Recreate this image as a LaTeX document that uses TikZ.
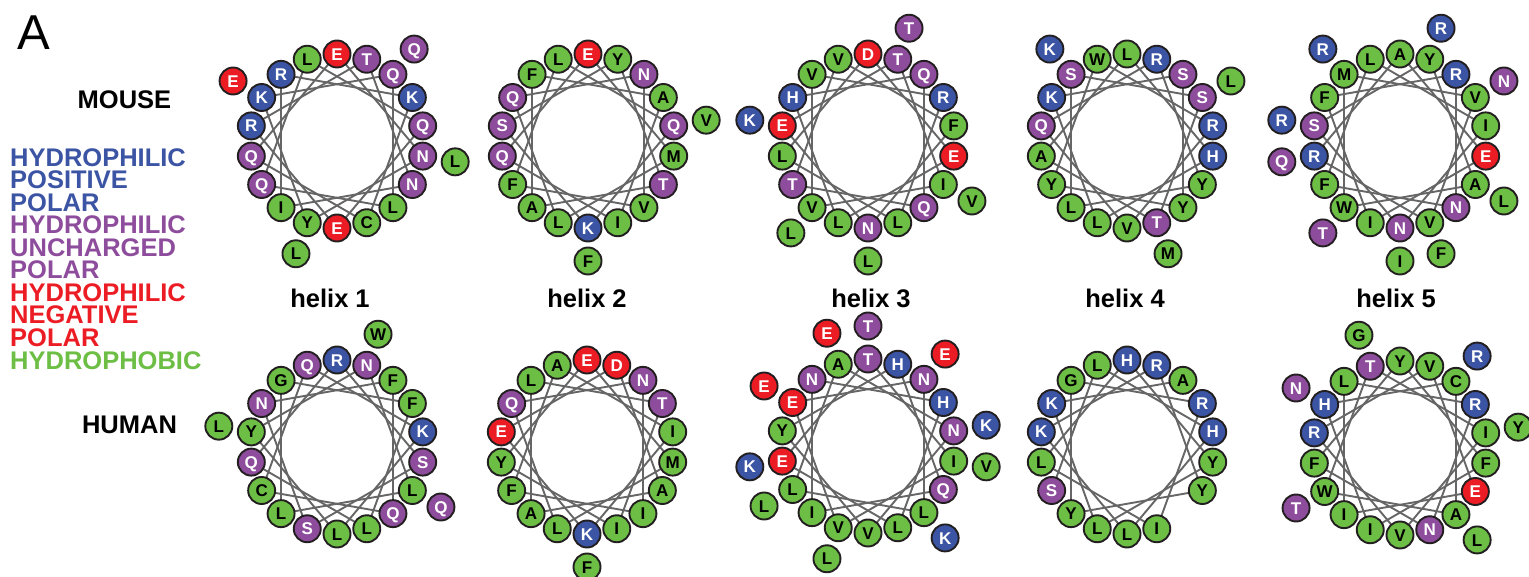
\documentclass[tikz,border=0pt]{standalone}
\usepackage{fontspec}
\setmainfont{Liberation Sans}
\usetikzlibrary{backgrounds}
\definecolor{pos}{HTML}{3B54A4}
\definecolor{unch}{HTML}{8E4C9C}
\definecolor{neg}{HTML}{EC1C24}
\definecolor{phob}{HTML}{6CBE45}
\definecolor{rim}{HTML}{231F20}
\definecolor{spoke}{HTML}{666666}
\tikzset{
  res/.style={circle,draw=rim,line width=1.9pt,minimum size=27pt,inner sep=0pt,
    text height=12.2pt,text depth=0pt,font=\fontsize{17}{17}\selectfont\bfseries},
  rpos/.style={fill=pos,text=white},
  runch/.style={fill=unch,text=white},
  rneg/.style={fill=neg,text=white},
  rphob/.style={fill=phob,text=black},
  aa K/.style={rpos}, aa R/.style={rpos}, aa H/.style={rpos},
  aa D/.style={rneg}, aa E/.style={rneg},
  aa S/.style={runch}, aa T/.style={runch}, aa N/.style={runch}, aa Q/.style={runch},
  aa A/.style={rphob}, aa V/.style={rphob}, aa L/.style={rphob}, aa I/.style={rphob},
  aa M/.style={rphob}, aa F/.style={rphob}, aa W/.style={rphob}, aa Y/.style={rphob},
  aa C/.style={rphob}, aa G/.style={rphob},
  chord/.style={draw=spoke,line width=1.9pt},
  lab/.style={font=\fontsize{25.5}{25.5}\selectfont\bfseries,inner sep=0pt},
  key/.style={font=\fontsize{25.5}{22.56}\selectfont\bfseries,align=left,inner sep=0pt},
}
% helical wheel: name, centre, ring letters (clockwise from top, - = empty),
% outer ring index/letter pairs, chords left out
\newcommand{\hwheel}[5]{%
  \coordinate (#1) at (#2);
  \foreach \l [count=\k from 0] in {#3}{%
    \if\l-\else
      \node[res,aa \l] (#1-\k) at ([shift={({90-20*\k}:87)}]#1) {\l};
    \fi}
  \if\relax\detokenize{#4}\relax\else
  \foreach \k/\l in {#4}{%
    \node[res,aa \l] (#1-o\k) at ([shift={({90-20*\k}:120)}]#1) {\l};}
  \fi
  \foreach \m in {#5}{\expandafter\gdef\csname hw#1skip\m\endcsname{}}
  \begin{pgfonlayer}{background}
    \foreach \k [evaluate=\k as \j using {int(mod(\k+5,18))}] in {0,...,17}{%
      \ifcsname hw#1skip\k\endcsname\else
        \draw[chord] (#1-\k.center) -- (#1-\j.center);
      \fi}
  \end{pgfonlayer}}

\begin{document}
\begin{tikzpicture}[x=1pt,y=1pt]
\useasboundingbox (0,0) rectangle (1529,576);
\node[font=\fontsize{49}{49}\selectfont,inner sep=0pt] (panel) at (34,543.5) {A};
\node[lab] (mouse) at (124.5,476) {MOUSE};
\node[lab] (human) at (129.5,151) {HUMAN};
\node[key,anchor=north west] (key) at (10,428) {%
  \textcolor{pos}{HYDROPHILIC}\\\textcolor{pos}{POSITIVE}\\\textcolor{pos}{POLAR}\\
  \textcolor{unch}{HYDROPHILIC}\\\textcolor{unch}{UNCHARGED}\\\textcolor{unch}{POLAR}\\
  \textcolor{neg}{HYDROPHILIC}\\\textcolor{neg}{NEGATIVE}\\\textcolor{neg}{POLAR}\\
  \textcolor{phob}{HYDROPHOBIC}};

% mouse
\hwheel{m1}{337,435}{E,T,Q,K,Q,N,N,L,C,E,Y,I,Q,Q,R,K,R,L}{2/Q,15/E,10/L,5/L}{}
\hwheel{m2}{588,435}{E,Y,N,A,Q,M,T,V,I,K,L,A,F,Q,S,Q,F,L}{4/V,9/F}{}
\hwheel{m3}{868,435}{D,T,Q,R,F,E,I,Q,L,N,L,V,T,L,E,H,V,V}{1/T,14/K,6/V,11/L,9/L}{}
\hwheel{m4}{1127,435}{L,R,S,S,R,H,Y,Y,T,V,L,L,Y,A,Q,K,S,W}{16/K,3/L,8/M}{}
\hwheel{m5}{1400,435}{A,Y,R,V,I,E,A,N,V,N,I,W,F,R,S,F,M,L}{1/R,3/N,14/R,16/R,13/Q,6/L,11/T,9/I,8/F}{}
% human
\hwheel{h1}{337,129}{R,N,F,F,K,S,L,Q,L,L,S,L,C,Q,Y,N,G,Q}{1/W,14/L,6/Q}{}
\hwheel{h2}{587,129}{E,D,N,T,I,M,A,I,I,K,L,A,F,Y,E,Q,L,A}{9/F}{}
\hwheel{h3}{868,130}{T,H,N,H,N,I,Q,L,L,V,V,I,L,E,Y,E,N,A}{0/T,17/E,2/E,15/E,4/K,5/V,13/K,12/L,7/K,10/L}{}
\hwheel{h4}{1127,129}{H,R,A,R,H,Y,Y,-,I,L,L,Y,S,L,K,K,G,L}{}{2,7}
\hwheel{h5}{1400,128}{Y,V,C,R,I,F,E,A,N,V,I,I,W,F,R,H,L,T}{17/G,2/R,15/N,4/Y,12/T,7/L}{}

\node[lab] (l1) at (330,278) {helix 1};
\node[lab] (l2) at (587,278) {helix 2};
\node[lab] (l3) at (871,278) {helix 3};
\node[lab] (l4) at (1125,278) {helix 4};
\node[lab] (l5) at (1396,278) {helix 5};
\end{tikzpicture}
\end{document}
